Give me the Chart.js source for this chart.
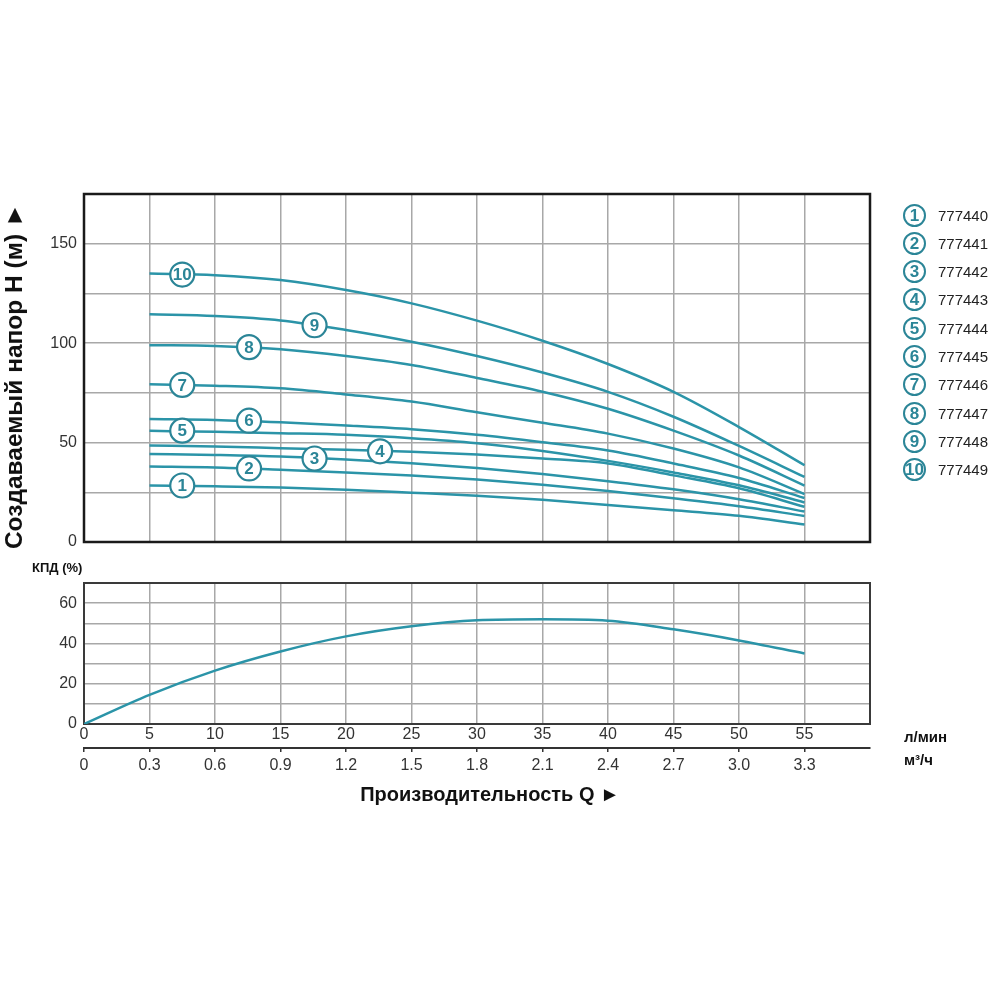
<!DOCTYPE html>
<html lang="ru">
<head>
<meta charset="utf-8">
<title>Напорные характеристики</title>
<script src="https://cdn.jsdelivr.net/npm/chart.js@4.4.1/dist/chart.umd.min.js"></script>
<style>
    body { margin: 0; background: #fff; font-family: 'Liberation Sans', Arial, sans-serif; }
    #wrap { position: relative; width: 1000px; height: 1000px; overflow: hidden; }
    .box { position: absolute; left: 0; width: 1000px; }
    .txt { position: absolute; white-space: nowrap; color: #111; }
    .legend-row { position: absolute; left: 903px; height: 24px; display: flex; align-items: center; }
    .legend-row .num {
        width: 19px; height: 19px; border: 2.5px solid #2b8597; border-radius: 50%;
        color: #2b8597; font-weight: bold; font-size: 17px; line-height: 19px; text-align: center;
    }
    .legend-row .name { margin-left: 12px; font-size: 15px; color: #222; }
</style>
</head>
<body>
<div id="wrap">
    <div class="box" style="top:0;height:560px"><canvas id="headChart"></canvas></div>
    <div class="box" style="top:560px;height:260px"><canvas id="effChart"></canvas></div>

    <div class="txt" style="left:-186px;top:362px;width:400px;height:28px;line-height:28px;text-align:center;font-weight:bold;font-size:24.5px;transform:rotate(-90deg)">Создаваемый напор Н (м) ►</div>
    <div class="txt" style="left:32px;top:560px;font-weight:bold;font-size:13px">КПД (%)</div>
    <div class="txt" style="left:904px;top:728px;font-weight:bold;font-size:15px">л/мин</div>
    <div class="txt" style="left:904px;top:751px;font-weight:bold;font-size:15px">м³/ч</div>
    <div class="txt" style="left:290px;top:783px;width:400px;text-align:center;font-weight:bold;font-size:20px">Производительность Q ►</div>
    <div id="legend"></div>
</div>

<script>
// расход, л/мин
const flowLpm = [5, 10, 15, 20, 25, 30, 35, 40, 45, 50, 55];

// напор, м (кривые 1..10)
const head1 = [28.4, 28, 27.4, 26.3, 24.8, 23.2, 21.2, 18.6, 16, 13.2, 8.8];
const head2 = [38, 37.5, 36.3, 35, 33.4, 31.4, 28.8, 25.6, 22, 18, 13.1];
const head3 = [44.3, 43.8, 43, 41.5, 39.6, 37.2, 34.2, 30.6, 26.5, 21.5, 15.3];
const head4 = [48.5, 48, 47.2, 46.4, 45.4, 44, 42, 39.5, 33.5, 27, 17.7];
const head5 = [55.9, 55.4, 54.7, 53.9, 52.2, 49.7, 45.8, 40.8, 35, 28.5, 19.9];
const head6 = [61.9, 61.4, 60.2, 58.6, 56.7, 53.9, 50.2, 46, 39.5, 32.2, 22.1];
const head7 = [79.3, 78.6, 77.3, 74.2, 70.6, 65.2, 60, 54.5, 47, 37.5, 24.1];
const head8 = [99, 98.6, 96.9, 93.5, 89, 82.5, 75.6, 67, 56, 43.5, 28.4];
const head9 = [114.5, 113.6, 111.4, 106.6, 100.7, 93.5, 85.2, 75.5, 63, 48.3, 32.7];
const head10 = [135, 134.2, 131.7, 126.7, 120, 111.3, 101.2, 89.5, 75.5, 57.8, 38.6];
const heads = [head1, head2, head3, head4, head5, head6, head7, head8, head9, head10];

// номера кривых и их положение на графике
const curveNumbers = ['1', '2', '3', '4', '5', '6', '7', '8', '9', '10'];
const labelFlow = [7.5, 12.6, 17.6, 22.6, 7.5, 12.6, 7.5, 12.6, 17.6, 7.5];
const labelHead = [28.4, 37, 42, 45.6, 56, 61, 79, 98, 109, 134.5];

const models = ['777440', '777441', '777442', '777443', '777444', '777445', '777446', '777447', '777448', '777449'];

// КПД, %
const effFlow = [0, 5, 10, 15, 20, 25, 30, 35, 40, 45, 50, 55];
const efficiency = [0, 14.5, 26.5, 36, 43.5, 48.5, 51.5, 52, 51.3, 47, 41.5, 35];

// подписи второй шкалы, м³/ч
const m3hTicks = ['0', '0.3', '0.6', '0.9', '1.2', '1.5', '1.8', '2.1', '2.4', '2.7', '3.0', '3.3'];

const TEAL = '#2b94a8';
const TEAL_DARK = '#2b8597';
const GRID = '#a8a8a8';
const FONT = "'Liberation Sans', Arial, sans-serif";

Chart.defaults.font.family = FONT;
Chart.defaults.animation = false;

// рамка области построения
const framePlugin = {
    id: 'frame',
    beforeDatasetsDraw(chart, args, opts) {
        const { ctx, chartArea: a } = chart;
        ctx.save();
        ctx.strokeStyle = opts.color;
        ctx.lineWidth = opts.width;
        ctx.strokeRect(a.left, a.top, a.right - a.left, a.bottom - a.top);
        ctx.restore();
    },
};

// цифры в кружках на кривых
const numberPlugin = {
    id: 'curveNumbers',
    afterDatasetsDraw(chart) {
        const meta = chart.getDatasetMeta(0);
        const { ctx } = chart;
        ctx.save();
        ctx.fillStyle = TEAL_DARK;
        ctx.font = 'bold 17px ' + FONT;
        ctx.textAlign = 'center';
        ctx.textBaseline = 'middle';
        meta.data.forEach((pt, i) => {
            ctx.fillText(curveNumbers[i], pt.x, pt.y + 1);
        });
        ctx.restore();
    },
};

const headDatasets = heads.map((h) => ({
    type: 'line',
    data: flowLpm.map((q, i) => ({ x: q, y: h[i] })),
    borderColor: TEAL,
    borderWidth: 2.5,
    pointRadius: 0,
    cubicInterpolationMode: 'monotone',
    order: 1,
}));

new Chart(document.getElementById('headChart'), {
    type: 'line',
    data: {
        datasets: [
            {
                type: 'scatter',
                data: labelFlow.map((q, i) => ({ x: q, y: labelHead[i] })),
                pointRadius: 12,
                pointBackgroundColor: '#fff',
                pointBorderColor: TEAL_DARK,
                pointBorderWidth: 2.2,
                order: 0,
            },
            ...headDatasets,
        ],
    },
    options: {
        responsive: true,
        maintainAspectRatio: false,
        layout: { padding: { top: 194, right: 130, left: 0, bottom: 0 } },
        plugins: {
            legend: { display: false },
            tooltip: { enabled: false },
            frame: { color: '#1a1a1a', width: 2.5 },
        },
        scales: {
            x: {
                type: 'linear',
                min: 0,
                max: 60,
                ticks: { stepSize: 5, display: false },
                grid: { color: GRID, lineWidth: 1.5, drawTicks: false },
                border: { display: false },
                afterFit: (scale) => { scale.height = 18; },
            },
            y: {
                min: 0,
                max: 175,
                ticks: {
                    stepSize: 25,
                    autoSkip: false,
                    padding: 7,
                    color: '#333',
                    font: { size: 16 },
                    callback: (v) => (v % 50 === 0 ? v : ''),
                },
                grid: { color: GRID, lineWidth: 1.5, drawTicks: false },
                border: { display: false },
                afterFit: (scale) => { scale.width = 84; },
            },
        },
    },
    plugins: [framePlugin, numberPlugin],
});

new Chart(document.getElementById('effChart'), {
    type: 'line',
    data: {
        datasets: [
            {
                data: effFlow.map((q, i) => ({ x: q, y: efficiency[i] })),
                borderColor: TEAL,
                borderWidth: 2.5,
                pointRadius: 0,
                cubicInterpolationMode: 'monotone',
            },
        ],
    },
    options: {
        responsive: true,
        maintainAspectRatio: false,
        layout: { padding: { top: 23, right: 130, left: 0, bottom: 0 } },
        plugins: {
            legend: { display: false },
            tooltip: { enabled: false },
            frame: { color: '#3a3a3a', width: 2 },
        },
        scales: {
            x: {
                type: 'linear',
                min: 0,
                max: 60,
                weight: 0,
                ticks: {
                    stepSize: 5,
                    autoSkip: false,
                    maxRotation: 0,
                    padding: 1,
                    color: '#333',
                    font: { size: 16 },
                    callback: (v) => (v === 60 ? '' : v),
                },
                grid: { color: GRID, lineWidth: 1.5, drawTicks: false },
                border: { display: false },
                afterFit: (scale) => { scale.height = 24; },
            },
            x2: {
                type: 'linear',
                position: 'bottom',
                min: 0,
                max: 60,
                weight: 1,
                ticks: {
                    stepSize: 5,
                    autoSkip: false,
                    maxRotation: 0,
                    padding: 4,
                    color: '#333',
                    font: { size: 16 },
                    callback: (v) => (v === 60 ? '' : m3hTicks[v / 5]),
                },
                grid: {
                    drawOnChartArea: false,
                    tickLength: 4,
                    lineWidth: 1.5,
                    color: (ctx) => (ctx.tick && ctx.tick.value === 60 ? 'rgba(0,0,0,0)' : '#333'),
                },
                border: { display: true, color: '#333', width: 2 },
                afterFit: (scale) => { scale.height = 72; },
            },
            y: {
                min: 0,
                max: 70,
                ticks: {
                    stepSize: 10,
                    autoSkip: false,
                    padding: 7,
                    color: '#333',
                    font: { size: 16 },
                    callback: (v) => (v % 20 === 0 ? v : ''),
                },
                grid: { color: GRID, lineWidth: 1.5, drawTicks: false },
                border: { display: false },
                afterFit: (scale) => { scale.width = 84; },
            },
        },
    },
    plugins: [framePlugin],
});

// легенда справа
const legend = document.getElementById('legend');
models.forEach((m, i) => {
    const row = document.createElement('div');
    row.className = 'legend-row';
    row.style.top = (203 + i * 28.3) + 'px';
    row.innerHTML = '<span class="num">' + curveNumbers[i] + '</span><span class="name">' + m + '</span>';
    legend.appendChild(row);
});
</script>
</body>
</html>
